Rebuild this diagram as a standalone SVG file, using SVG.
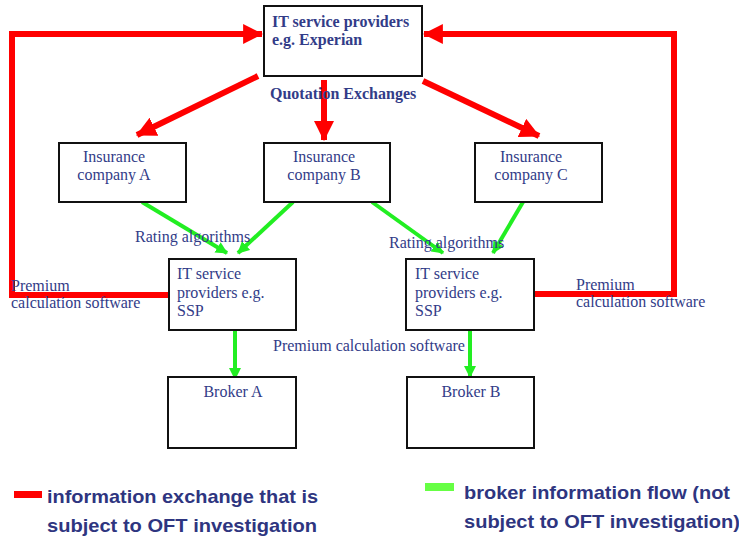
<svg xmlns="http://www.w3.org/2000/svg" width="739" height="537" viewBox="0 0 739 537">
  <defs>
    <marker id="redHead" markerUnits="userSpaceOnUse" markerWidth="20" markerHeight="20" viewBox="0 0 18 18" refX="17" refY="9" orient="auto">
      <path d="M0,0 L18,9 L0,18 Z" fill="#ff0000"/>
    </marker>
    <marker id="greenHead" markerUnits="userSpaceOnUse" markerWidth="12" markerHeight="12" viewBox="0 0 12 12" refX="11" refY="6" orient="auto">
      <path d="M0,0 L12,6 L0,12 Z" fill="#22ee22"/>
    </marker>
  </defs>
  <style>
    .box { fill: #ffffff; stroke: #111111; stroke-width: 2; }
    .lbl { font-family: "Liberation Serif", "Times New Roman", serif; font-size: 16px; fill: #323c88; }
    .bold { font-weight: bold; }
    .red { fill: none; stroke: #ff0000; stroke-width: 6; }
    .green { fill: none; stroke: #22ee22; stroke-width: 4; }
    .legend { font-family: "Liberation Sans", Arial, sans-serif; font-size: 19px; font-weight: bold; fill: #2e3580; }
  </style>
  <rect width="739" height="537" fill="#ffffff"/>

  <!-- connectors -->
  <g id="connectors">
    <!-- premium software loops back to the central provider -->
    <polyline class="red" points="168,295 12,295 12,34 262,34" marker-end="url(#redHead)"/>
    <polyline class="red" points="534,294 674,294 674,34 424,34" marker-end="url(#redHead)"/>
    <!-- quotation exchanges -->
    <line class="red" x1="258" y1="76" x2="137" y2="135" marker-end="url(#redHead)"/>
    <line class="red" x1="324" y1="80" x2="324" y2="140" marker-end="url(#redHead)"/>
    <line class="red" x1="423" y1="81" x2="539" y2="136" marker-end="url(#redHead)"/>
    <!-- rating algorithms -->
    <line class="green" x1="142" y1="202" x2="227" y2="253" marker-end="url(#greenHead)"/>
    <line class="green" x1="293" y1="202" x2="238" y2="253" marker-end="url(#greenHead)"/>
    <line class="green" x1="372" y1="202" x2="443" y2="253" marker-end="url(#greenHead)"/>
    <line class="green" x1="523" y1="202" x2="493" y2="253" marker-end="url(#greenHead)"/>
    <!-- software to brokers -->
    <line class="green" x1="235" y1="331" x2="235" y2="379" marker-end="url(#greenHead)"/>
    <line class="green" x1="470" y1="331" x2="470" y2="377" marker-end="url(#greenHead)"/>
  </g>

  <!-- connector labels -->
  <g id="labels">
    <text class="lbl bold" x="270" y="99" font-size="15">Quotation Exchanges</text>
    <text class="lbl" x="135" y="242">Rating algorithms</text>
    <text class="lbl" x="389" y="248">Rating algorithms</text>
    <text class="lbl" x="11" y="291">Premium</text>
    <text class="lbl" x="11" y="308">calculation software</text>
    <text class="lbl" x="576" y="290">Premium</text>
    <text class="lbl" x="576" y="307">calculation software</text>
    <text class="lbl" x="273" y="351">Premium calculation software</text>
  </g>

  <g id="experian">
    <rect class="box" x="264" y="6" width="158" height="70"/>
    <text class="lbl bold" x="272" y="27" font-size="15">IT service providers</text>
    <text class="lbl bold" x="272" y="45" font-size="15">e.g. Experian</text>
  </g>

  <g id="insurer-a">
    <rect class="box" x="59" y="143" width="127" height="59"/>
    <text class="lbl" x="114" y="162" text-anchor="middle">Insurance</text>
    <text class="lbl" x="114" y="180" text-anchor="middle">company A</text>
  </g>
  <g id="insurer-b">
    <rect class="box" x="264" y="143" width="126" height="59"/>
    <text class="lbl" x="324" y="162" text-anchor="middle">Insurance</text>
    <text class="lbl" x="324" y="180" text-anchor="middle">company B</text>
  </g>
  <g id="insurer-c">
    <rect class="box" x="475" y="143" width="127" height="59"/>
    <text class="lbl" x="531" y="162" text-anchor="middle">Insurance</text>
    <text class="lbl" x="531" y="180" text-anchor="middle">company C</text>
  </g>

  <g id="ssp-left">
    <rect class="box" x="169" y="259" width="127" height="71"/>
    <text class="lbl" x="177" y="279">IT service</text>
    <text class="lbl" x="177" y="298">providers e.g.</text>
    <text class="lbl" x="177" y="316">SSP</text>
  </g>
  <g id="ssp-right">
    <rect class="box" x="406" y="259" width="128" height="71"/>
    <text class="lbl" x="415" y="279">IT service</text>
    <text class="lbl" x="415" y="298">providers e.g.</text>
    <text class="lbl" x="415" y="316">SSP</text>
  </g>

  <g id="broker-a">
    <rect class="box" x="168" y="377" width="128" height="71"/>
    <text class="lbl" x="233" y="397" text-anchor="middle">Broker A</text>
  </g>
  <g id="broker-b">
    <rect class="box" x="407" y="377" width="127" height="71"/>
    <text class="lbl" x="471" y="397" text-anchor="middle">Broker B</text>
  </g>

  <!-- legend -->
  <g id="legend">
    <rect x="14" y="491" width="28" height="7" fill="#ff0000"/>
    <text class="legend" x="47" y="503" textLength="271" lengthAdjust="spacingAndGlyphs">information exchange that is</text>
    <text class="legend" x="47" y="532" textLength="270" lengthAdjust="spacingAndGlyphs">subject to OFT investigation</text>
    <rect x="425" y="483" width="29" height="8" fill="#66ff44"/>
    <text class="legend" x="464" y="499" textLength="266" lengthAdjust="spacingAndGlyphs">broker information flow (not</text>
    <text class="legend" x="464" y="528" textLength="276" lengthAdjust="spacingAndGlyphs">subject to OFT investigation)</text>
  </g>
</svg>
